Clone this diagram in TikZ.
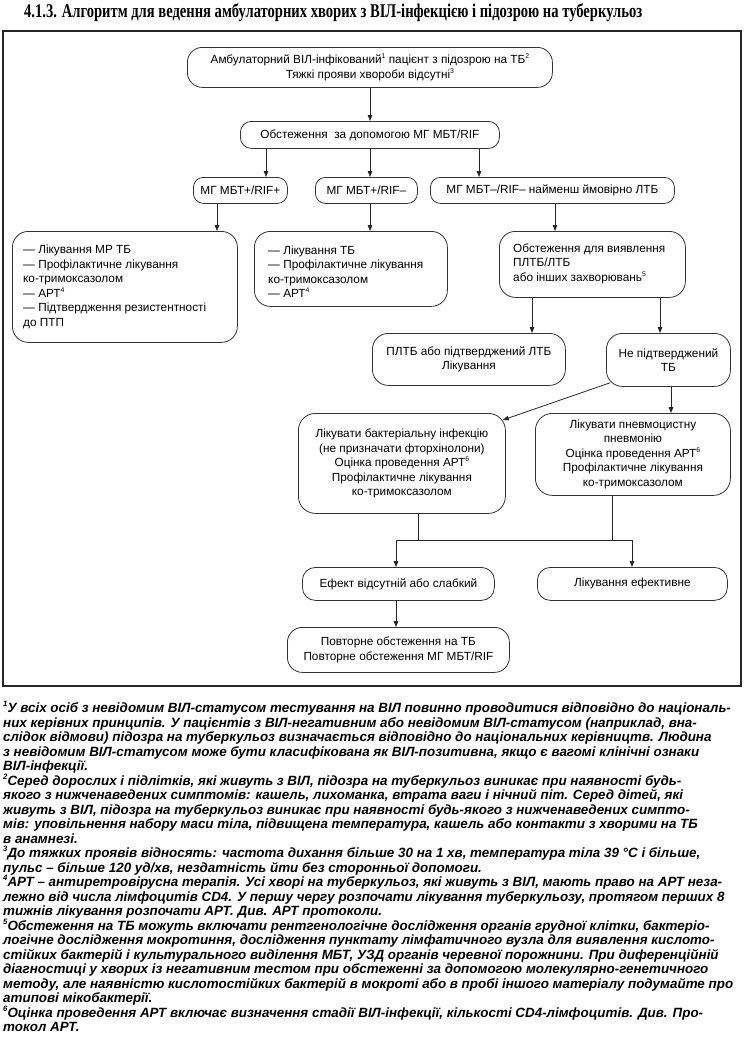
\documentclass[tikz,border=0pt]{standalone}
\usepackage{fontspec}
\usepackage{graphicx}
\usetikzlibrary{arrows.meta,calc}
\setmainfont{Liberation Sans}
\newfontfamily\boxfont{Liberation Sans}
\newfontfamily\titlefont[FakeStretch=0.75]{Liberation Serif}
\newfontfamily\notefont{Liberation Sans}
\newcommand\sups[1]{\raisebox{0.42em}{\scalebox{0.58}{#1}}}
\begin{document}
\begin{tikzpicture}[x=1pt,y=-1pt,
  box/.style={draw=black!80, line width=0.8pt, rounded corners=#1, inner sep=0pt,
    font=\boxfont\fontsize{11.8}{14.5}\selectfont, text=black, align=center, anchor=north west},
  box/.default=14pt,
  btxt/.style={inner sep=0pt, font=\boxfont\fontsize{11.8}{14.5}\selectfont, text=black, align=left, anchor=west},
  arr/.style={draw=black!85, line width=0.8pt, -{Triangle[length=6pt,width=4.6pt]}},
  ln/.style={draw=black!85, line width=0.8pt},
  frame/.style={draw=black!85, line width=1.3pt},
  note/.style={anchor=base west, inner sep=0pt, text=black,
    font=\notefont\bfseries\itshape\fontsize{13.4}{14.5}\selectfont}
]
\useasboundingbox (0,0) rectangle (745,1039);
\fill[white] (0,0) rectangle (745,1039);

% title
\node[anchor=west, inner sep=0pt] (title) at (24,12.5)
  {\resizebox{618pt}{!}{\titlefont\bfseries\fontsize{17}{17}\selectfont 4.1.3. Алгоритм для ведення амбулаторних хворих з ВІЛ-інфекцією і підозрою на туберкульоз}};

% frame
\draw[frame] (3,31) rectangle (741,686);

% boxes
\node[box=15pt, minimum width=365pt, minimum height=40pt] (b1) at (187,47)
  {Амбулаторний ВІЛ-інфікований\sups{1} пацієнт з підозрою на ТБ\sups{2}\\Тяжкі прояви хвороби відсутні\sups{3}};
\node[box=11pt, minimum width=259pt, minimum height=27pt] (b2) at (240,121)
  {Обстеження\ \ за допомогою МГ МБТ/RIF};
\node[box=10pt, minimum width=94pt, minimum height=26pt] (b3a) at (193,177) {МГ МБТ+/RIF+};
\node[box=10pt, minimum width=102pt, minimum height=26pt] (b3b) at (315,177) {МГ МБТ+/RIF–};
\node[box=10pt, minimum width=244pt, minimum height=26pt] (b3c) at (430,177) {МГ МБТ–/RIF– найменш ймовірно ЛТБ};

\node[box=16pt, minimum width=225pt, minimum height=111pt] (b4a) at (12,231) {};
\node[btxt] (t4a) at ($(b4a.west)+(11,0)$)
  {— Лікування МР ТБ\\— Профілактичне лікування\\ко-тримоксазолом\\— АРТ\sups{4}\\— Підтвердження резистентності\\до ПТП};
\node[box=16pt, minimum width=193pt, minimum height=75pt] (b4b) at (254,231) {};
\node[btxt] (t4b) at ($(b4b.west)+(14,3)$)
  {— Лікування ТБ\\— Профілактичне лікування\\ко-тримоксазолом\\— АРТ\sups{4}};
\node[box=16pt, minimum width=186pt, minimum height=66pt] (b4c) at (499,231) {};
\node[btxt] (t4c) at ($(b4c.west)+(14,-1)$)
  {Обстеження для виявлення\\ПЛТБ/ЛТБ\\або інших захворювань\sups{5}};

\node[box=16pt, minimum width=193pt, minimum height=52pt] (b5a) at (372,333)
  {ПЛТБ або підтверджений ЛТБ\\Лікування};
\node[box=16pt, minimum width=124pt, minimum height=53pt] (b5b) at (606,333)
  {Не підтверджений\\ТБ};

\node[box=17pt, minimum width=207pt, minimum height=100pt] (b6a) at (298,413)
  {Лікувати бактеріальну інфекцію\\(не призначати фторхінолони)\\Оцінка проведення АРТ\sups{6}\\Профілактичне лікування\\ко-тримоксазолом};
\node[box=17pt, minimum width=195pt, minimum height=82pt] (b6b) at (535,413)
  {Лікувати пневмоцистну\\пневмонію\\Оцінка проведення АРТ\sups{6}\\Профілактичне лікування\\ко-тримоксазолом};

\node[box=13pt, minimum width=192pt, minimum height=33pt] (b7a) at (302,567) {Ефект відсутній або слабкий};
\node[box=13pt, minimum width=190pt, minimum height=33pt] (b7b) at (537,567) {Лікування ефективне};
\node[box=15pt, minimum width=222pt, minimum height=45pt] (b8) at (287,627)
  {Повторне обстеження на ТБ\\Повторне обстеження МГ МБТ/RIF};

% helper x positions
\coordinate (c217) at (217,0);
\coordinate (c266) at (266,0);
\coordinate (c370) at (370,0);
\coordinate (c396) at (396,0);
\coordinate (c418) at (418,0);
\coordinate (c479) at (479,0);
\coordinate (c532) at (532,0);
\coordinate (c555) at (555,0);
\coordinate (c612) at (612,0);
\coordinate (c632) at (632,0);
\coordinate (c660) at (660,0);
\coordinate (c671) at (671,0);
\coordinate (jy) at (0,540);

% connectors
\draw[arr] (c370 |- b1.south) -- (c370 |- b2.north);
\draw[arr] (c266 |- b2.south) -- (c266 |- b3a.north);
\draw[arr] (c370 |- b2.south) -- (c370 |- b3b.north);
\draw[arr] (c479 |- b2.south) -- (c479 |- b3c.north);
\draw[arr] (c217 |- b3a.south) -- (c217 |- b4a.north);
\draw[arr] (c370 |- b3b.south) -- (c370 |- b4b.north);
\draw[arr] (c555 |- b3c.south) -- (c555 |- b4c.north);
\draw[arr] (c532 |- b4c.south) -- (c532 |- b5a.north);
\draw[arr] (c660 |- b4c.south) -- (c660 |- b5b.north);
\draw[arr] ($(b5b.south west)+(4,-4)$) -- ($(b6a.north east)+(-3,7)$);
\draw[arr] (c671 |- b5b.south) -- (c671 |- b6b.north);
\draw[ln] (c418 |- b6a.south) -- (c418 |- jy);
\draw[ln] (c612 |- b6b.south) -- (c612 |- jy);
\draw[ln] (c396 |- jy) -- (c632 |- jy);
\draw[arr] (c396 |- jy) -- (c396 |- b7a.north);
\draw[arr] (c632 |- jy) -- (c632 |- b7b.north);
\draw[arr] (c396 |- b7a.south) -- (c396 |- b8.north);

% footnotes
\foreach \t [count=\i] in {
 {\sups{1}У всіх осіб з невідомим ВІЛ-статусом тестування на ВІЛ повинно проводитися відповідно до національ-},
 {них керівних принципів. У пацієнтів з ВІЛ-негативним або невідомим ВІЛ-статусом (наприклад, вна-},
 {слідок відмови) підозра на туберкульоз визначається відповідно до національних керівництв. Людина},
 {з невідомим ВІЛ-статусом може бути класифікована як ВІЛ-позитивна, якщо є вагомі клінічні ознаки},
 {ВІЛ-інфекції.},
 {\sups{2}Серед дорослих і підлітків, які живуть з ВІЛ, підозра на туберкульоз виникає при наявності будь-},
 {якого з нижченаведених симптомів: кашель, лихоманка, втрата ваги і нічний піт. Серед дітей, які},
 {живуть з ВІЛ, підозра на туберкульоз виникає при наявності будь-якого з нижченаведених симпто-},
 {мів: уповільнення набору маси тіла, підвищена температура, кашель або контакти з хворими на ТБ},
 {в анамнезі.},
 {\sups{3}До тяжких проявів відносять: частота дихання більше 30 на 1 хв, температура тіла 39 °С і більше,},
 {пульс – більше 120 уд/хв, нездатність йти без сторонньої допомоги.},
 {\sups{4}АРТ – антиретровірусна терапія. Усі хворі на туберкульоз, які живуть з ВІЛ, мають право на АРТ неза-},
 {лежно від числа лімфоцитів CD4. У першу чергу розпочати лікування туберкульозу, протягом перших 8},
 {тижнів лікування розпочати АРТ. Див. АРТ протоколи.},
 {\sups{5}Обстеження на ТБ можуть включати рентгенологічне дослідження органів грудної клітки, бактеріо-},
 {логічне дослідження мокротиння, дослідження пунктату лімфатичного вузла для виявлення кислото-},
 {стійких бактерій і культурального виділення МБТ, УЗД органів черевної порожнини. При диференційній},
 {діагностиці у хворих із негативним тестом при обстеженні за допомогою молекулярно-генетичного},
 {методу, але наявністю кислотостійких бактерій в мокроті або в пробі іншого матеріалу подумайте про},
 {атипові мікобактерії.},
 {\sups{6}Оцінка проведення АРТ включає визначення стадії ВІЛ-інфекції, кількості CD4-лімфоцитів. Див. Про-},
 {токол АРТ.}
}{
 \node[note] (f\i) at (3,{712.5+14.5*(\i-1)}) {\t};
}
\end{tikzpicture}
\end{document}
